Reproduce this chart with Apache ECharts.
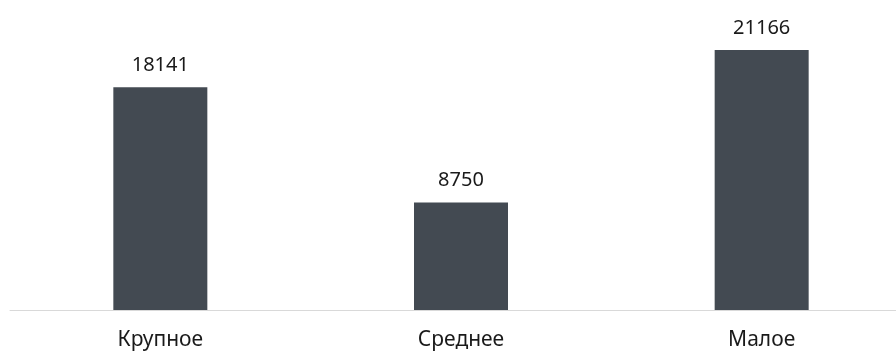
<!DOCTYPE html>
<html>
<head>
<meta charset="utf-8">
<script src="https://cdn.jsdelivr.net/npm/echarts@6/dist/echarts.min.js"></script>
<style>
  html, body { margin: 0; padding: 0; background: #ffffff; overflow: hidden; }
  #chart { width: 912px; height: 356px; }
</style>
</head>
<body>
<div id="chart"></div>
<script>
// Enterprise size categories and their counts
const categories = ['Крупное', 'Среднее', 'Малое'];
const values = [18141, 8750, 21166];

const chart = echarts.init(document.getElementById('chart'), null, { renderer: 'canvas' });

chart.setOption({
  animation: false,
  backgroundColor: '#ffffff',
  textStyle: { fontFamily: 'Noto Sans' },
  grid: { left: 10, right: 0, top: 50, bottom: 46, containLabel: false },
  xAxis: {
    type: 'category',
    data: categories,
    axisLine: { show: true, lineStyle: { color: '#d9d9d9', width: 1 } },
    axisTick: { show: false },
    axisLabel: { color: '#1a1a1a', fontSize: 21, margin: 20, fontFamily: 'Noto Sans' }
  },
  yAxis: {
    type: 'value',
    min: 0,
    max: 'dataMax',
    show: false,
    splitLine: { show: false }
  },
  series: [{
    type: 'bar',
    data: values,
    barWidth: 94,
    itemStyle: { color: '#434a52' },
    label: {
      show: true,
      position: 'top',
      distance: 12,
      color: '#1a1a1a',
      fontSize: 20,
      fontFamily: 'Noto Sans'
    }
  }]
});
</script>
</body>
</html>
